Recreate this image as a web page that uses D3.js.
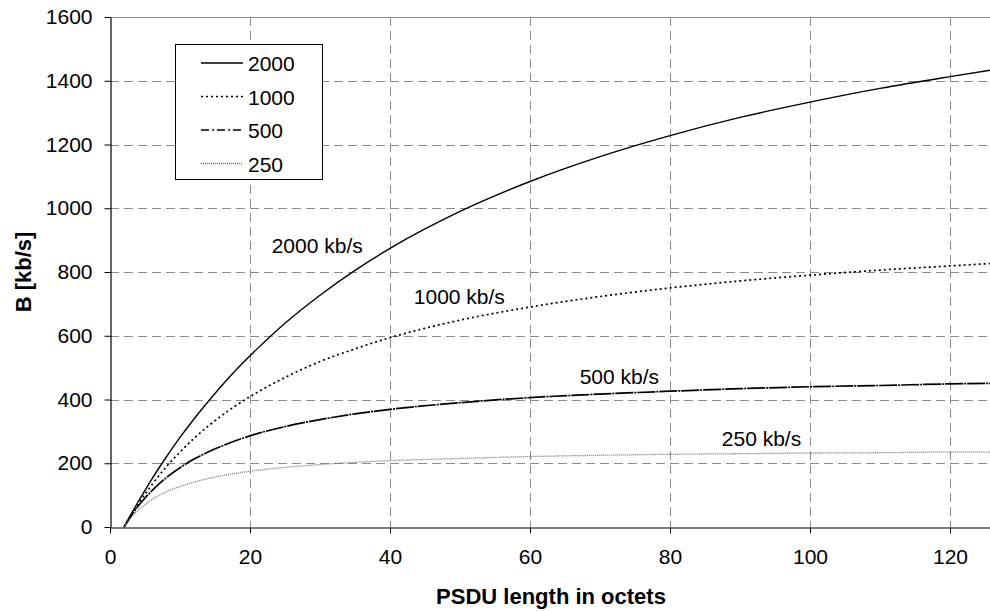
<!DOCTYPE html>
<html>
<head>
<meta charset="utf-8">
<script src="https://cdn.jsdelivr.net/npm/d3@7"></script>
<style>
    body { margin: 0; background: #fff; }
    svg { display: block; font-family: Arial, "Liberation Sans", sans-serif; }
</style>
</head>
<body>
<div id="chart"></div>
<script>
// PSDU length in octets
const psduLength = [2, 3, 4, 5, 6, 8, 10, 12, 14, 17, 20, 25, 30, 35, 40, 50, 60, 70, 80, 90, 100, 110, 120, 126];

// Throughput B [kb/s] per data rate
const rate2000 = [0, 40, 78, 115, 151, 218, 281, 339, 393, 469, 537, 639, 727, 805, 874, 990, 1084, 1162, 1228, 1285, 1333, 1376, 1413, 1434];
const rate1000 = [0, 37, 71, 103, 133, 188, 235, 278, 316, 366, 409, 469, 519, 559, 594, 649, 690, 723, 750, 772, 790, 806, 819, 827];
const rate500 = [0, 34, 65, 91, 114, 154, 186, 213, 235, 263, 286, 315, 337, 355, 369, 390, 406, 417, 426, 434, 440, 444, 449, 451];
const rate250 = [0, 29, 52, 70, 86, 110, 127, 141, 152, 165, 175, 187, 196, 203, 208, 215, 221, 225, 228, 230, 232, 233, 235, 235];

const seriesNames = ['2000', '1000', '500', '250'];
const curveLabels = ['2000 kb/s', '1000 kb/s', '500 kb/s', '250 kb/s'];
// where each curve label sits, in data units (left x, baseline y)
const labelX = [23.1, 43.4, 67.1, 87.4];
const labelY = [860, 700, 449, 254];

const xTicks = [0, 20, 40, 60, 80, 100, 120];
const yTicks = [0, 200, 400, 600, 800, 1000, 1200, 1400, 1600];

const width = 990;
const height = 611;
const margin = {top: 17, right: -2, bottom: 84, left: 110};
const innerW = width - margin.left - margin.right;
const innerH = height - margin.top - margin.bottom;

const series = [rate2000, rate1000, rate500, rate250].map((vals, i) => ({
    name: seriesNames[i],
    values: vals.map((v, j) => ({x: psduLength[j], y: v}))
}));

const styles = {
    '2000': {stroke: '#000', width: 1.4, dash: null, legendDash: null},
    '1000': {stroke: '#000', width: 1.7, dash: '2,3', legendDash: '2,3'},
    '500': {stroke: '#000', width: 1.7, dash: '18,1,2,1', legendDash: '8,3,2,3'},
    '250': {stroke: '#777', width: 1.3, dash: '1,1', legendDash: '1,1'}
};

const svg = d3.select('#chart').append('svg')
    .attr('width', width)
    .attr('height', height);

const g = svg.append('g')
    .attr('transform', `translate(${margin.left},${margin.top})`);

const x = d3.scaleLinear()
    .domain([0, 126])
    .range([0, innerW]);

const y = d3.scaleLinear()
    .domain([0, 1600])
    .range([innerH, 0]);

// Gridlines
g.selectAll('.hgrid')
    .data(yTicks.filter(d => d > 0 && d < 1600))
    .enter().append('line')
    .attr('class', 'hgrid')
    .attr('x1', 0)
    .attr('x2', innerW)
    .attr('y1', d => Math.round(y(d)) + 0.5)
    .attr('y2', d => Math.round(y(d)) + 0.5)
    .attr('stroke', '#8c8c8c')
    .attr('stroke-dasharray', '9,5');

g.selectAll('.vgrid')
    .data(xTicks.filter(d => d > 0))
    .enter().append('line')
    .attr('class', 'vgrid')
    .attr('x1', d => Math.round(x(d)) + 0.5)
    .attr('x2', d => Math.round(x(d)) + 0.5)
    .attr('y1', 0)
    .attr('y2', innerH)
    .attr('stroke', '#8c8c8c')
    .attr('stroke-dasharray', '9,5');

// Top frame
g.append('line')
    .attr('x1', 0)
    .attr('x2', innerW)
    .attr('y1', 0.5)
    .attr('y2', 0.5)
    .attr('stroke', '#8c8c8c');

// Curves
const line = d3.line()
    .x(d => x(d.x))
    .y(d => y(d.y))
    .curve(d3.curveMonotoneX);

g.selectAll('.series')
    .data(series)
    .enter().append('path')
    .attr('class', 'series')
    .attr('d', d => line(d.values))
    .attr('fill', 'none')
    .attr('stroke', d => styles[d.name].stroke)
    .attr('stroke-width', d => styles[d.name].width)
    .attr('stroke-dasharray', d => styles[d.name].dash);

// Curve labels
g.selectAll('.curve-label')
    .data(curveLabels)
    .enter().append('text')
    .attr('class', 'curve-label')
    .attr('x', (d, i) => x(labelX[i]))
    .attr('y', (d, i) => y(labelY[i]))
    .style('font-size', '21px')
    .text(d => d);

// Add axes
const xAxis = g.append('g')
    .attr('transform', `translate(0,${innerH + 0.5})`)
    .call(d3.axisBottom(x).tickValues(xTicks).tickFormat(d3.format('d'))
        .tickSize(6).tickPadding(16).tickSizeOuter(0));

const yAxis = g.append('g')
    .attr('transform', 'translate(0.5,0)')
    .call(d3.axisLeft(y).tickValues(yTicks).tickFormat(d3.format('d'))
        .tickSize(6).tickPadding(12).tickSizeOuter(0));

[xAxis, yAxis].forEach(ax => {
    ax.select('.domain').attr('stroke', '#000').attr('stroke-width', 1.2);
    ax.selectAll('.tick line').attr('stroke', '#000');
    ax.selectAll('.tick text')
        .attr('fill', '#000')
        .style('font-size', '21px')
        .style('font-family', 'Arial, "Liberation Sans", sans-serif');
});

// Axis titles
svg.append('text')
    .attr('x', margin.left + x(63))
    .attr('y', 604)
    .attr('text-anchor', 'middle')
    .style('font-size', '22px')
    .style('font-weight', 'bold')
    .text('PSDU length in octets');

svg.append('text')
    .attr('transform', `translate(31,${margin.top + y(800)}) rotate(-90)`)
    .attr('text-anchor', 'middle')
    .style('font-size', '22px')
    .style('font-weight', 'bold')
    .text('B [kb/s]');

// Legend
const legend = svg.append('g')
    .attr('transform', 'translate(175,44)');

legend.append('rect')
    .attr('x', 0.5)
    .attr('y', 0.5)
    .attr('width', 147)
    .attr('height', 135)
    .attr('fill', '#fff')
    .attr('stroke', '#000');

seriesNames.forEach((name, i) => {
    const cy = 19 + i * 33.5;
    legend.append('line')
        .attr('x1', 26)
        .attr('x2', 68)
        .attr('y1', cy)
        .attr('y2', cy)
        .attr('stroke', styles[name].stroke)
        .attr('stroke-width', styles[name].width)
        .attr('stroke-dasharray', styles[name].legendDash);

    legend.append('text')
        .attr('x', 73)
        .attr('y', cy + 8)
        .style('font-size', '21px')
        .text(name);
});
</script>
</body>
</html>
